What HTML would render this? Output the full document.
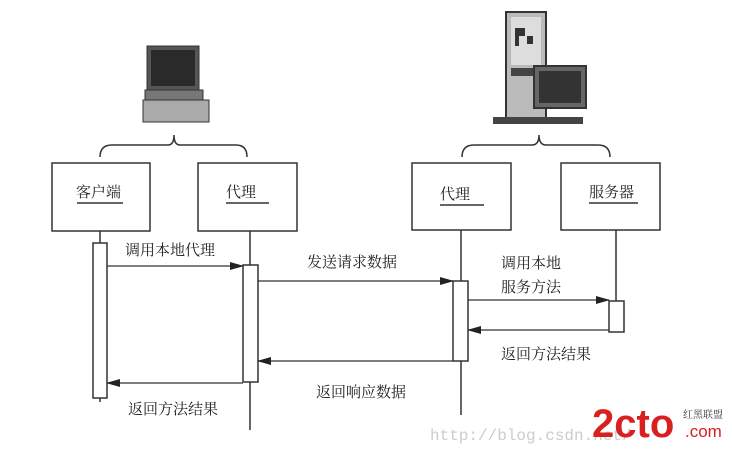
<!DOCTYPE html>
<html><head><meta charset="utf-8"><style>
body{margin:0;background:#fff}
svg text{font-family:"Liberation Serif","Noto Serif CJK SC",serif;font-size:15px;fill:#222}
</style></head><body>
<svg width="732" height="447" viewBox="0 0 732 447" xmlns="http://www.w3.org/2000/svg">
<defs><marker id="a" markerWidth="14" markerHeight="8" refX="13" refY="4" orient="auto" markerUnits="userSpaceOnUse"><path d="M0,0 L14,4 L0,8 Z" fill="#222"/></marker></defs>
<g stroke="#333" fill="none" stroke-width="1.5">
<path d="M100,157 Q100,145 112,145 L168,145 Q174,145 174,135 Q174,145 180,145 L236,145 Q247,145 247,157"/>
<path d="M462,157 Q462,145 474,145 L532,145 Q539,145 539,135 Q539,145 546,145 L598,145 Q610,145 610,157"/>
<rect x="52" y="163" width="98" height="68"/>
<rect x="198" y="163" width="99" height="68"/>
<rect x="412" y="163" width="99" height="67"/>
<rect x="561" y="163" width="99" height="67"/>
<line x1="100" y1="231" x2="100" y2="402"/>
<line x1="250" y1="231" x2="250" y2="430"/>
<line x1="461" y1="230" x2="461" y2="415"/>
<line x1="616" y1="230" x2="616" y2="302"/>
</g>
<g stroke="#333" fill="#fff" stroke-width="1.5">
<rect x="93" y="243" width="14" height="155"/>
<rect x="243" y="265" width="15" height="117"/>
<rect x="453" y="281" width="15" height="80"/>
<rect x="609" y="301" width="15" height="31"/>
</g>
<g stroke="#333" stroke-width="1.2" marker-end="url(#a)">
<line x1="107" y1="266" x2="243" y2="266"/>
<line x1="258" y1="281" x2="453" y2="281"/>
<line x1="468" y1="300" x2="609" y2="300"/>
<line x1="609" y1="330" x2="468" y2="330"/>
<line x1="453" y1="361" x2="258" y2="361"/>
<line x1="243" y1="383" x2="107" y2="383"/>
</g>
<g stroke="#333" stroke-width="1.5">
<line x1="77" y1="203" x2="123" y2="203"/>
<line x1="226" y1="203" x2="269" y2="203"/>
<line x1="440" y1="205" x2="484" y2="205"/>
<line x1="589" y1="203" x2="638" y2="203"/>
</g>
<text x="76" y="197">客户端</text>
<text x="226" y="197">代理</text>
<text x="440" y="199">代理</text>
<text x="589" y="197">服务器</text>
<text x="125" y="255">调用本地代理</text>
<text x="307" y="267">发送请求数据</text>
<text x="501" y="268">调用本地</text>
<text x="501" y="292">服务方法</text>
<text x="501" y="359">返回方法结果</text>
<text x="316" y="397">返回响应数据</text>
<text x="128" y="414">返回方法结果</text>
<rect x="147" y="46" width="52" height="44" fill="#555" stroke="#333"/>
<rect x="151" y="50" width="44" height="36" fill="#2a2a2a"/>
<rect x="145" y="90" width="58" height="10" fill="#777" stroke="#333"/>
<rect x="143" y="100" width="66" height="22" fill="#aaa" stroke="#333"/>
<rect x="506" y="12" width="40" height="108" fill="#bbb" stroke="#333" stroke-width="2"/>
<rect x="511" y="17" width="30" height="48" fill="#ddd"/>
<path d="M515,28 h10 v8 h-6 v10 h-4z M527,36 h6 v8 h-6z" fill="#333"/>
<rect x="511" y="68" width="30" height="8" fill="#444"/>
<rect x="534" y="66" width="52" height="42" fill="#666" stroke="#333" stroke-width="2"/>
<rect x="539" y="71" width="42" height="32" fill="#333"/>
<rect x="493" y="117" width="90" height="7" fill="#444"/>
<text x="430" y="440" style="font-family:'Liberation Mono',monospace;font-size:16px;fill:#ccc">http://blog.csdn.net/</text>
<text x="592" y="437" style="font-family:'Liberation Sans',sans-serif;font-size:40px;font-weight:bold;fill:#d82020">2cto</text>
<text x="685" y="437" style="font-family:'Liberation Sans',sans-serif;font-size:17px;fill:#d82020">.com</text>
<text x="683" y="418" style="font-size:10px;fill:#333">红黑联盟</text>
</svg>
</body></html>
